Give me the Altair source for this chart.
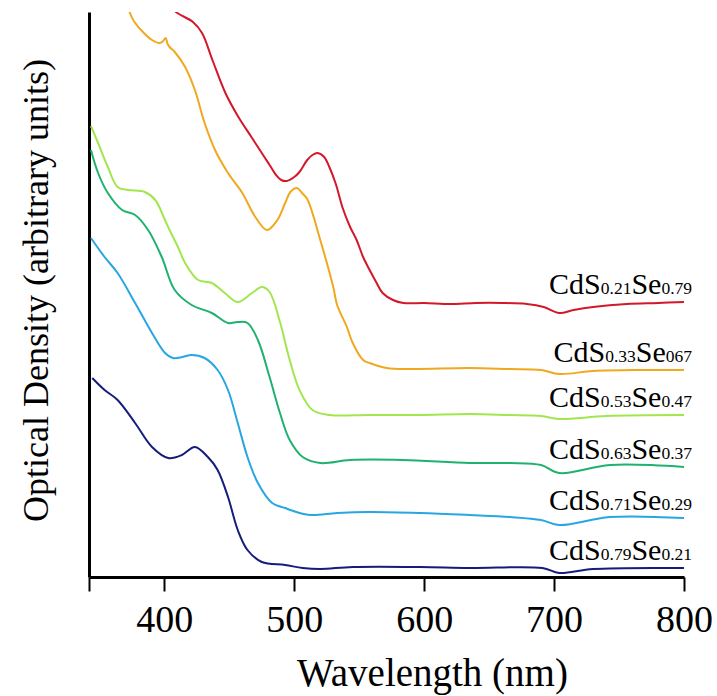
import altair as alt
import pandas as pd

# ---------------- data ----------------
series = ["CdS0.21Se0.79", "CdS0.33Se0.67", "CdS0.53Se0.47",
          "CdS0.63Se0.37", "CdS0.71Se0.29", "CdS0.79Se0.21"]
colors = ["#d3182a", "#f0a81e", "#a2e64e", "#1fb26e", "#28a6e2", "#161c7c"]

s_sub = ["0.21", "0.33", "0.53", "0.63", "0.71", "0.79"]
se_sub = ["0.79", "067", "0.47", "0.37", "0.29", "0.21"]

wl_red = [400, 410, 422, 429, 437, 447, 457, 467, 477, 481, 486, 490, 494, 500, 504,
          510, 514, 518, 523, 527, 532, 537, 543, 548, 553, 558, 563, 568, 576, 584,
          600, 620, 640, 660, 679, 692, 704, 715, 730, 756, 780, 800]
od_red = [5.75, 5.64, 5.55, 5.44, 5.17, 4.84, 4.60, 4.40, 4.20, 4.12, 4.02, 3.97, 3.96, 4.00, 4.05,
          4.17, 4.22, 4.24, 4.20, 4.10, 3.93, 3.70, 3.50, 3.37, 3.20, 3.07, 2.95, 2.84, 2.77, 2.74,
          2.74, 2.73, 2.74, 2.74, 2.73, 2.70, 2.64, 2.67, 2.70, 2.73, 2.74, 2.75]

wl_or = [370, 373.5, 377, 383.5, 390.5, 396.5, 399, 401, 402.5, 404, 408, 416, 423.5, 431, 439,
         449, 460, 470, 479, 487, 493, 497, 502, 506, 510, 520, 530, 533, 540.5, 545, 553,
         558, 571, 590, 635, 665, 690, 704, 730, 770, 800]
od_or = [5.80, 5.64, 5.55, 5.45, 5.37, 5.34, 5.36, 5.39, 5.33, 5.30, 5.25, 5.10, 4.87, 4.54, 4.27,
         4.04, 3.84, 3.60, 3.47, 3.57, 3.74, 3.85, 3.89, 3.84, 3.78, 3.37, 2.90, 2.72, 2.50, 2.34, 2.17,
         2.14, 2.09, 2.08, 2.09, 2.08, 2.07, 2.03, 2.06, 2.07, 2.07]

wl_lg = [343.5, 349, 356.5, 364, 372, 385, 393, 400.5, 404, 410.5, 416, 426, 436.5, 446.5, 456.5,
         467.5, 475, 481, 489, 496.5, 504, 514, 527, 558, 596, 635, 665, 690, 704, 740, 800]
od_lg = [4.51, 4.34, 4.10, 3.90, 3.87, 3.85, 3.77, 3.57, 3.47, 3.30, 3.14, 2.97, 2.94, 2.84, 2.75,
         2.84, 2.90, 2.85, 2.55, 2.17, 1.87, 1.67, 1.62, 1.62, 1.62, 1.63, 1.62, 1.61, 1.58, 1.61, 1.62]

wl_tl = [343.5, 349, 356.5, 367.5, 377.5, 387.5, 398, 408, 421, 436.5, 449, 456.5, 464, 472, 481,
         489, 496.5, 506.5, 520, 543, 583.5, 635, 666, 690, 704, 743, 800]
od_tl = [4.27, 4.04, 3.84, 3.67, 3.62, 3.47, 3.20, 2.87, 2.72, 2.64, 2.54, 2.55, 2.54, 2.37, 2.00,
         1.64, 1.37, 1.20, 1.14, 1.17, 1.17, 1.14, 1.14, 1.12, 1.04, 1.12, 1.10]

wl_bl = [343.5, 354, 364, 377.5, 390.5, 400.5, 406.5, 414, 421, 431, 441, 449, 456.5, 464, 472,
         483, 493, 497, 512, 533, 558, 597, 635, 666, 690, 704, 743, 800]
od_bl = [3.39, 3.20, 3.04, 2.74, 2.44, 2.24, 2.19, 2.20, 2.22, 2.19, 2.07, 1.87, 1.54, 1.20, 0.94,
         0.74, 0.69, 0.67, 0.62, 0.64, 0.65, 0.64, 0.62, 0.60, 0.57, 0.52, 0.60, 0.59]

wl_nv = [344.5, 354, 364, 377.5, 390.5, 403, 413.5, 423.5, 433.5, 441, 449, 456.5, 464, 475,
         493, 506.5, 520, 545, 597, 635, 691, 704, 730, 800]
od_nv = [1.99, 1.87, 1.77, 1.54, 1.30, 1.19, 1.22, 1.30, 1.20, 1.07, 0.80, 0.47, 0.27, 0.15,
         0.12, 0.09, 0.08, 0.10, 0.10, 0.09, 0.09, 0.04, 0.08, 0.09]

x_ticks = [342, 400, 500, 600, 700, 800]
x_domain = [342, 800]
y_domain = [0, 5.65]

wls = [wl_red, wl_or, wl_lg, wl_tl, wl_bl, wl_nv]
ods = [od_red, od_or, od_lg, od_tl, od_bl, od_nv]

# ---------------- build tables ----------------
PLOT_W, PLOT_H = 595, 565
rows = []
for name, wl, od in zip(series, wls, ods):
    for w, o in zip(wl, od):
        rows.append({"series": name, "wl": w, "od": o})
df = pd.DataFrame(rows)

FONT = "Liberation Serif"
BIG, SMALL = 30, 17.5
adv = {"C": 0.667, "d": 0.5, "S": 0.556, "e": 0.444, ".": 0.25}
for ch in "0123456789":
    adv[ch] = 0.5


def text_width(s, size):
    return sum(adv.get(c, 0.5) for c in s) * size


nm_per_px = (x_domain[1] - x_domain[0]) / PLOT_W
lab_rows = []
for i, name in enumerate(series):
    pieces = [("CdS", BIG), (s_sub[i], SMALL), ("Se", BIG), (se_sub[i], SMALL)]
    total = sum(text_width(t, s) for t, s in pieces)
    off = 8 - total  # pixels right of the curve's end, label right-aligned at +8 px
    for t, s in pieces:
        lab_rows.append({"series": name, "wl": wls[i][-1] + off * nm_per_px,
                         "od": ods[i][-1], "piece": t, "fs": s})
        off += text_width(t, s)
lab_df = pd.DataFrame(lab_rows)

x_scale = alt.Scale(domain=x_domain, nice=False, zero=False)
y_scale = alt.Scale(domain=y_domain, nice=False, zero=False)

x_axis = alt.Axis(values=x_ticks, labelExpr="datum.value < 350 ? '' : datum.label",
                  domainColor="black", domainWidth=3, tickColor="black", tickWidth=2,
                  tickSize=14, labelFont=FONT, labelFontSize=38, labelColor="black",
                  labelPadding=10, labelFlush=False, labelOverlap=False, grid=False,
                  title="Wavelength (nm)", titleFont=FONT, titleFontSize=39,
                  titleFontWeight="normal", titleColor="black", titleX=343, titleY=108,
                  titleAlign="center", titleBaseline="alphabetic")
y_axis = alt.Axis(domainColor="black", domainWidth=3, ticks=False, labels=False, grid=False,
                  title="Optical Density (arbitrary units)", titleFont=FONT, titleFontSize=36,
                  titleFontWeight="normal", titleColor="black", titleX=-42, titleY=278,
                  titleAlign="center", titleBaseline="alphabetic", titleAngle=270)

lines = alt.Chart(df).mark_line(strokeWidth=2, interpolate="catmull-rom", clip=True).encode(
    x=alt.X("wl:Q", scale=x_scale, axis=x_axis),
    y=alt.Y("od:Q", scale=y_scale, axis=y_axis),
    color=alt.Color("series:N", scale=alt.Scale(domain=series, range=colors), legend=None),
    order=alt.Order("wl:Q"),
)

labels = alt.Chart(lab_df).mark_text(align="left", baseline="alphabetic", dy=-8,
                                      font=FONT, color="black").encode(
    x=alt.X("wl:Q", scale=x_scale, axis=x_axis),
    y=alt.Y("od:Q", scale=y_scale, axis=y_axis),
    size=alt.Size("fs:Q", scale=None, legend=None),
    text="piece:N",
)

chart = alt.layer(lines, labels).properties(
    width=PLOT_W, height=PLOT_H,
    padding={"left": 89, "top": 12, "right": 33, "bottom": 119},
    autosize=alt.AutoSizeParams(type="none"),
).configure(font=FONT).configure_view(stroke=None).configure_axis(
    labelFont=FONT, titleFont=FONT).configure_axisX(labelFont=FONT, titleFont=FONT)

chart.save("out.html", embed_options={"renderer": "svg", "actions": False})
